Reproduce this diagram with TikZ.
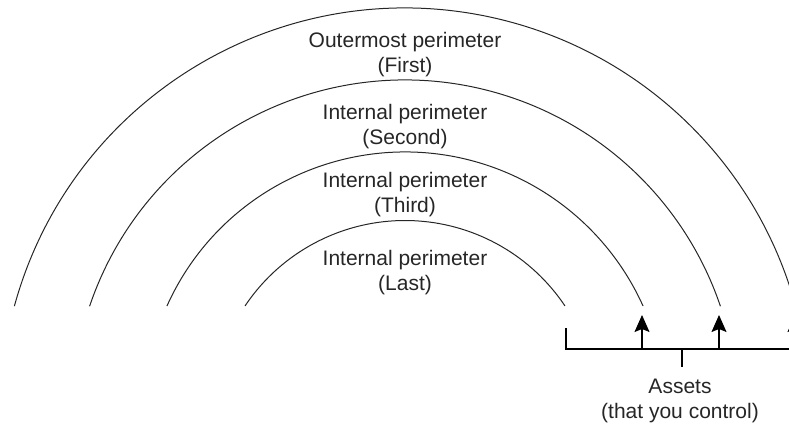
\documentclass[tikz,border=0pt]{standalone}
\usepackage{fontspec}
\setmainfont{Liberation Sans}
\usetikzlibrary{arrows.meta}
\tikzset{
  ring/.style={line width=1pt, draw=black!85},
  lbl/.style={align=center, font=\fontsize{21}{25}\selectfont, text=black!85, inner sep=0pt},
  up/.style={line width=1.3pt, -{Stealth[length=17pt,width=15pt,inset=3pt]}},
  brk/.style={line width=1.2pt}
}
\begin{document}
\begin{tikzpicture}[x=1pt,y=1pt]
\useasboundingbox (0,0) rectangle (789,423);
\coordinate (c) at (405,10);
% arcs
\draw[ring] (c) ++(164.7:405) arc[start angle=164.7, end angle=15.3, radius=405] coordinate (e1);
\draw[ring] (c) ++(161.3:333) arc[start angle=161.3, end angle=18.7, radius=333] coordinate (e2);
\draw[ring] (c) ++(155.8:261) arc[start angle=155.8, end angle=24.2, radius=261] coordinate (e3);
\draw[ring] (c) ++(146.2:192.5) arc[start angle=146.2, end angle=33.8, radius=192.5] coordinate (e4);
% labels
\node[lbl] (t1) at (405,368.5) {Outermost perimeter\\(First)};
\node[lbl] (t2) at (405,296) {Internal perimeter\\(Second)};
\node[lbl] (t3) at (405,228.5) {Internal perimeter\\(Third)};
\node[lbl] (t4) at (405,150) {Internal perimeter\\(Last)};
% bracket
\coordinate (bl) at (566,74);
\coordinate (bt) at (566,95);
\coordinate (br) at (810,74);
\coordinate (bm) at (682,74);
\coordinate (bmd) at (682,56);
\coordinate (a2) at (642,74);
\coordinate (a2t) at (642,108);
\coordinate (a3) at (719,74);
\coordinate (a3t) at (719,108);
\coordinate (a1) at (795,74);
\coordinate (a1t) at (795,108);
\draw[brk] (bt) -- (bl) -- (br);
\draw[brk] (bm) -- (bmd);
\draw[up] (a2) -- (a2t);
\draw[up] (a3) -- (a3t);
\draw[up] (a1) -- (a1t);
\node[lbl] (as) at (680,22) {Assets\\(that you control)};
\end{tikzpicture}
\end{document}
